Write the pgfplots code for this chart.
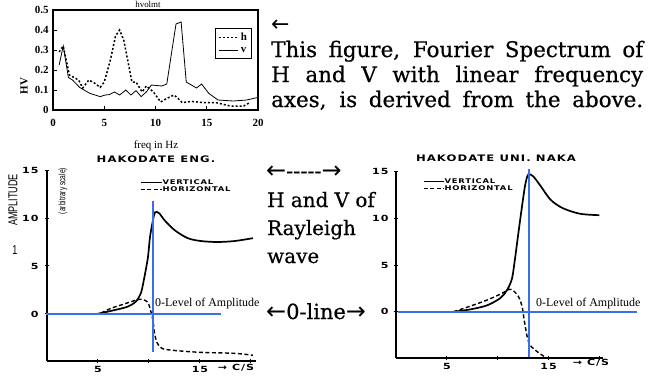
\documentclass[border=0pt]{standalone}
\usepackage{fontspec}
\setmainfont{Liberation Serif}
\usepackage{pgfplots}
\pgfplotsset{compat=1.18}
\newfontfamily\dvs[FakeBold=0.6]{DejaVu Serif}
\newfontfamily\dsans{DejaVu Sans}
\newfontfamily\ext[FakeStretch=1.3,LetterSpace=12]{DejaVu Sans}
\newfontfamily\cond[FakeStretch=0.7]{Liberation Sans}
\definecolor{bl}{RGB}{60,110,235}

\begin{document}
\begin{tikzpicture}[x=1bp,y=1bp]
\useasboundingbox (0,0) rectangle (648,-376);
\clip (0,0) rectangle (648,-376);

% ---------------- top chart ----------------
\begin{axis}[
  at={(53bp,-110bp)}, anchor=south west,
  scale only axis, width=205bp, height=100bp,
  xmin=0, xmax=20, ymin=0, ymax=0.5,
  xtick={0,5,10,15,20}, ytick={0,0.1,0.2,0.3,0.4,0.5},
  xticklabels={0,5,10,15,20}, yticklabels={0,0.1,0.2,0.3,0.4,0.5},
  xtick pos=lower, ytick pos=lower, tick align=inside,
  major tick length=4bp, tick style={black, line width=0.8bp},
  ticklabel style={font=\fontsize{11}{12}\selectfont\bfseries},
  xticklabel style={yshift=-6bp}, yticklabel style={xshift=-1bp},
  axis line style={line width=1.1bp},
  legend style={at={(0.97,0.82)}, anchor=north east, draw=black, line width=0.8bp,
    font=\fontsize{11}{12}\selectfont\bfseries, inner sep=2.5bp, row sep=1.5bp},
  legend cell align=left,
  legend image code/.code={\draw[#1] (0bp,0bp) -- (19bp,0bp);},
]
\addplot[black, line width=1.5bp, dash pattern=on 2bp off 2bp] coordinates {
(0.6,0.29)(1,0.32)(1.6,0.175)(2.5,0.15)(2.9,0.11)(3.5,0.15)(4.1,0.133)(4.6,0.113)(5,0.14)(5.6,0.25)(6.1,0.37)(6.5,0.4)(6.9,0.35)(7.4,0.22)(7.7,0.14)(8.1,0.14)(8.7,0.09)(9.1,0.12)(9.8,0.09)(10.5,0.04)(11.1,0.058)(11.8,0.075)(12.2,0.058)(12.6,0.037)(13.5,0.043)(14.7,0.037)(15.9,0.037)(17.3,0.02)(18.6,0.02)(19.2,0.037)};
\addlegendentry{h}
\addplot[black, line width=0.8bp] coordinates {
(0.6,0.225)(1.0,0.32)(1.5,0.163)(1.9,0.15)(2.6,0.113)(3.6,0.083)(4.6,0.067)(5.1,0.075)(5.5,0.077)(6,0.09)(6.5,0.075)(7.1,0.1)(7.6,0.075)(8.1,0.097)(8.6,0.067)(9.1,0.09)(9.6,0.125)(10.6,0.12)(11.1,0.13)(12,0.43)(12.5,0.44)(13,0.14)(14,0.11)(14.5,0.13)(15.2,0.083)(16.1,0.05)(17.6,0.045)(18.9,0.05)(20,0.063)};
\addlegendentry{v}
\end{axis}

% ---------------- bottom left chart ----------------
\begin{axis}[
  at={(47bp,-361bp)}, anchor=south west,
  scale only axis, width=209bp, height=191bp,
  xmin=0, xmax=20.5, ymin=-4.9, ymax=15,
  axis lines*=left, clip=false,
  y axis line style={line width=2.4bp}, x axis line style={line width=1.2bp},
  xtick={5,10,15,20}, xticklabels={5,,15,},
  ytick={0,5,10,15}, yticklabels={0,5,10,15},
  tick align=center, major tick length=4bp, tick style={black, line width=1bp},
  ticklabel style={font=\ext\bfseries\fontsize{8.5}{9}\selectfont},
  yticklabel style={xshift=-3bp},
  legend style={at={(0.445,0.955)}, anchor=north west, draw=none, fill=none,
    font=\ext\bfseries\fontsize{6.5}{7}\selectfont, inner sep=0pt, row sep=-0.5bp,
    nodes={inner sep=0.6bp}},
  legend cell align=left,
  legend image code/.code={\draw[#1, line width=0.7bp] (0bp,0bp) -- (21bp,0bp);},
]
\addplot[black, line width=1.7bp, smooth, tension=0.5] coordinates {
(0,0)(4.5,0)(5.3,0.1)(6.6,0.4)(7.9,0.76)(8.7,1.28)(9.2,2.15)(9.5,3.54)(9.9,5.9)(10.1,8.0)(10.4,9.8)(10.6,10.6)(11.0,10.5)(11.5,9.8)(12.5,8.75)(13.8,7.9)(15.1,7.6)(16.7,7.5)(18.4,7.6)(20.2,7.9)};
\addlegendentry{VERTICAL}
\addplot[black, line width=1.4bp, dash pattern=on 4bp off 2.5bp, smooth, tension=0.5] coordinates {
(5.3,0.1)(6.3,0.6)(7.6,1.05)(8.9,1.5)(9.4,1.5)(9.9,1.2)(10.2,0.2)(10.4,-0.7)(10.55,-2.0)(10.8,-3.0)(11.3,-3.6)(12.5,-3.8)(15.1,-4.0)(18.4,-4.1)(20.2,-4.3)};
\addlegendentry{HORIZONTAL}
\addplot[bl, line width=2bp, forget plot] coordinates {(-0.1,0)(17.1,0)};
\addplot[bl, line width=2bp, forget plot] coordinates {(10.35,11.8)(10.35,-4.0)};
\end{axis}

% ---------------- bottom right chart ----------------
\begin{axis}[
  at={(396bp,-358bp)}, anchor=south west,
  scale only axis, width=206.5bp, height=186.2bp,
  xmin=0, xmax=20.3, ymin=-4.96, ymax=15,
  axis lines*=left, clip=false,
  y axis line style={line width=1.5bp}, x axis line style={line width=1.2bp},
  xtick={5,10,15,20}, xticklabels={5,,15,},
  ytick={0,5,10,15}, yticklabels={0,5,10,15},
  tick align=center, major tick length=4bp, tick style={black, line width=1bp},
  ticklabel style={font=\ext\bfseries\fontsize{8.5}{9}\selectfont},
  yticklabel style={xshift=-2bp},
  legend style={at={(0.131,0.97)}, anchor=north west, draw=none, fill=none,
    font=\ext\bfseries\fontsize{6.5}{7}\selectfont, inner sep=0pt, row sep=-0.5bp,
    nodes={inner sep=0.6bp}},
  legend cell align=left,
  legend image code/.code={\draw[#1, line width=0.7bp] (0bp,0bp) -- (20bp,0bp);},
]
\addplot[black, line width=1.7bp, smooth, tension=0.5] coordinates {
(5.65,0)(7.3,0.25)(8.94,0.68)(10.25,1.46)(10.9,2.3)(11.4,3.55)(11.7,5.7)(12.05,8.6)(12.4,11.4)(12.7,13.6)(13.0,14.7)(13.5,14.5)(14.2,13.5)(15.2,12.0)(16.4,11.1)(18.1,10.5)(20,10.35)};
\addlegendentry{VERTICAL}
\addplot[black, line width=1.4bp, dash pattern=on 4bp off 2.5bp, smooth, tension=0.5] coordinates {
(5.65,0)(7.3,0.6)(8.94,1.25)(10.4,1.96)(11.1,2.4)(11.55,2.25)(12.05,1.6)(12.4,0.54)(12.6,-0.9)(12.9,-2.7)(13.2,-3.6)(13.9,-4.3)(14.8,-4.96)};
\addlegendentry{HORIZONTAL}
\addplot[bl, line width=2bp, forget plot] coordinates {(0.2,0)(23.7,0)};
\addplot[bl, line width=2bp, forget plot] coordinates {(13.1,15.3)(13.1,-4.8)};
\end{axis}

% ---------------- texts ----------------
\node[font=\fontsize{9}{10}\selectfont, inner sep=0] at (148,-4.5) {hvolmt};
\node[font=\fontsize{11}{12}\selectfont\bfseries, rotate=90] at (24,-86) {HV};
\node[font=\fontsize{11}{12}\selectfont] at (156,-146) {freq in Hz};

\node[font=\ext\bfseries\fontsize{9}{10}\selectfont] at (156,-159) {HAKODATE ENG.};
\node[font=\ext\bfseries\fontsize{9}{10}\selectfont] at (496,-158) {HAKODATE UNI. NAKA};
\node[rotate=90, font=\cond\fontsize{13}{14}\selectfont] at (13,-200) {AMPLITUDE};
\node[rotate=90, font=\cond\fontsize{9.5}{10}\selectfont] at (63,-191) {(arbitrary scale)};
\node[font=\cond\fontsize{13}{14}\selectfont] at (15,-250) {1};
\node[font=\ext\bfseries\fontsize{8.5}{9}\selectfont] at (236,-368) {→ C/S};
\node[font=\ext\bfseries\fontsize{8.5}{9}\selectfont] at (591,-363) {→ C/S};

\node[anchor=base west, font=\fontsize{12}{13}\selectfont, inner sep=0] at (155,-306) {0-Level of Amplitude};
\node[anchor=base west, font=\fontsize{12}{13}\selectfont, inner sep=0] at (536,-306) {0-Level of Amplitude};

\node[anchor=base west, inner sep=0, font=\dsans\fontsize{22}{24}\selectfont] at (271,-31) {←};
\node[anchor=base west, inner sep=0, font=\dvs\fontsize{21.5}{24}\selectfont] at (271,-57) {\makebox[372bp][s]{This figure, Fourier Spectrum of}};
\node[anchor=base west, inner sep=0, font=\dvs\fontsize{21.5}{24}\selectfont] at (271,-82) {\makebox[372bp][s]{H and V with linear frequency}};
\node[anchor=base west, inner sep=0, font=\dvs\fontsize{21.5}{24}\selectfont] at (271,-107) {\makebox[372bp][s]{axes, is derived from the above.}};

\node[anchor=base west, inner sep=0, font=\dvs\fontsize{21}{24}\selectfont] at (266,-178) {{\dsans\fontsize{24}{24}\selectfont ←}{-}{-}{-}{-}{-}{\dsans\fontsize{24}{24}\selectfont →}};
\node[anchor=base west, inner sep=0, font=\dvs\fontsize{20}{24}\selectfont] at (267,-207) {H and V of};
\node[anchor=base west, inner sep=0, font=\dvs\fontsize{20}{24}\selectfont] at (267,-235) {Rayleigh};
\node[anchor=base west, inner sep=0, font=\dvs\fontsize{20}{24}\selectfont] at (267,-263) {wave};
\node[anchor=base west, inner sep=0, font=\dvs\fontsize{21}{24}\selectfont] at (266,-319) {{\dsans\fontsize{24}{24}\selectfont ←}0-line{\dsans\fontsize{24}{24}\selectfont →}};
\end{tikzpicture}
\end{document}
